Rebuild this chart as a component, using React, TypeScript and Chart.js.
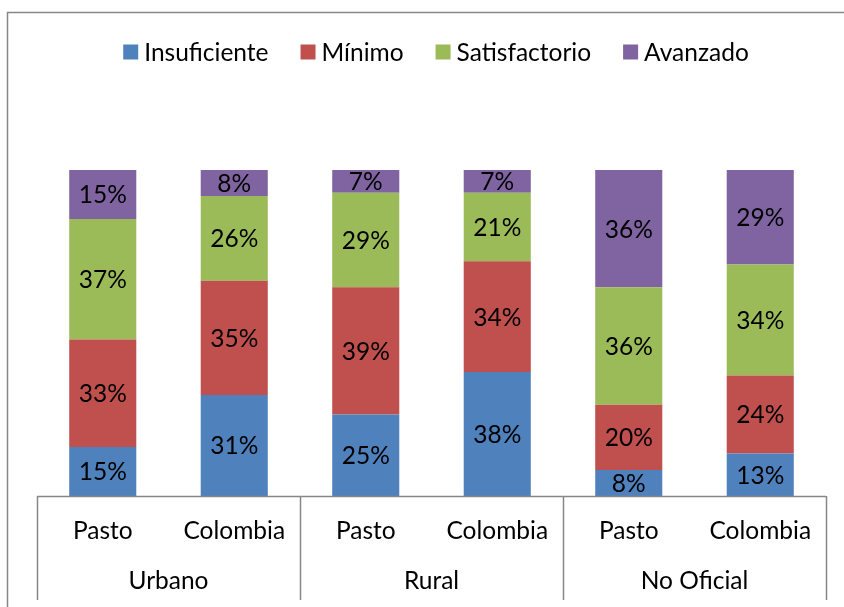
import React, { useEffect, useRef } from "react";
import { Chart, registerables } from "chart.js";

Chart.register(...registerables);

const categories = ["Pasto", "Colombia", "Pasto", "Colombia", "Pasto", "Colombia"];
const groups = ["Urbano", "Rural", "No Oficial"];
const seriesNames = ["Insuficiente", "Mínimo", "Satisfactorio", "Avanzado"];
const insuficiente = [15, 31, 25, 38, 8, 13];
const minimo = [33, 35, 39, 34, 20, 24];
const satisfactorio = [37, 26, 29, 21, 36, 34];
const avanzado = [15, 8, 7, 7, 36, 29];
const seriesColors = ["#4F81BD", "#C0504D", "#9BBB59", "#8064A2"];

const FONT_FAMILY = "Lato";
const FONT_SIZE = 24.5;
const AXIS_COLOR = "#878787";

const overlayPlugin = {
  id: "overlay",
  afterDatasetsDraw(chart: any) {
    const ctx = chart.ctx as CanvasRenderingContext2D;
    ctx.save();
    ctx.font = `${FONT_SIZE}px ${FONT_FAMILY}`;
    ctx.fillStyle = "#000";
    ctx.textAlign = "center";
    ctx.textBaseline = "middle";
    chart.data.datasets.forEach((ds: any, di: number) => {
      const meta = chart.getDatasetMeta(di);
      meta.data.forEach((bar: any, i: number) => {
        const v = ds.data[i];
        const p = bar.getProps(["x", "y", "base"], true);
        ctx.fillText(`${v}%`, p.x, (p.y + p.base) / 2 + 1);
      });
    });
    ctx.restore();
  },
  afterDraw(chart: any) {
    const ctx = chart.ctx as CanvasRenderingContext2D;
    const area = chart.chartArea;
    const xs = chart.scales.x;
    const n = categories.length;
    const step = (area.right - area.left) / n;
    ctx.save();

    // outer frame
    ctx.strokeStyle = AXIS_COLOR;
    ctx.lineWidth = 1.5;
    ctx.beginPath();
    ctx.moveTo(7.5, chart.height + 2);
    ctx.lineTo(7.5, 12.5);
    ctx.lineTo(chart.width + 2, 12.5);
    ctx.stroke();

    // axis line
    ctx.beginPath();
    ctx.moveTo(area.left, area.bottom + 0.5);
    ctx.lineTo(area.right, area.bottom + 0.5);
    ctx.stroke();

    // group separators
    const sepBottom = area.bottom + 104;
    for (let g = 0; g <= groups.length; g++) {
      const x = Math.round(area.left + g * 2 * step) + 0.5;
      ctx.beginPath();
      ctx.moveTo(x, area.bottom);
      ctx.lineTo(x, sepBottom);
      ctx.stroke();
    }

    // category labels
    ctx.font = `${FONT_SIZE}px ${FONT_FAMILY}`;
    ctx.fillStyle = "#000";
    ctx.textAlign = "center";
    ctx.textBaseline = "middle";
    categories.forEach((c, i) => {
      ctx.fillText(c, xs.getPixelForValue(i), area.bottom + 35);
    });
    groups.forEach((g, gi) => {
      const x = (xs.getPixelForValue(gi * 2) + xs.getPixelForValue(gi * 2 + 1)) / 2;
      ctx.fillText(g, x, area.bottom + 85);
    });

    // legend
    const box = 15;
    const boxGap = 6;
    const itemGap = 32;
    const widths = seriesNames.map((s) => ctx.measureText(s).width);
    const total = widths.reduce((a, w) => a + box + boxGap + w, 0) + itemGap * (seriesNames.length - 1);
    let x = 436 - total / 2;
    const ly = 52;
    ctx.textAlign = "left";
    seriesNames.forEach((s, i) => {
      ctx.fillStyle = seriesColors[i];
      ctx.fillRect(x, ly - box / 2, box, box);
      ctx.fillStyle = "#000";
      ctx.fillText(s, x + box + boxGap, ly + 1);
      x += box + boxGap + widths[i] + itemGap;
    });
    ctx.restore();
  },
};

export default function App() {
  const canvasRef = useRef<HTMLCanvasElement | null>(null);

  useEffect(() => {
    if (!canvasRef.current) return;
    const seriesData = [insuficiente, minimo, satisfactorio, avanzado];
    const chart = new Chart(canvasRef.current, {
      type: "bar",
      data: {
        labels: categories,
        datasets: seriesNames.map((name, i) => ({
          label: name,
          data: seriesData[i],
          backgroundColor: seriesColors[i],
          borderWidth: 0,
          barPercentage: 1,
          categoryPercentage: 0.51,
        })),
      },
      options: {
        animation: false,
        responsive: true,
        maintainAspectRatio: false,
        layout: { padding: { top: 170, bottom: 111, left: 37, right: 18 } },
        plugins: { legend: { display: false }, tooltip: { enabled: false } },
        scales: {
          x: { stacked: true, display: false },
          y: { stacked: true, display: false, min: 0, max: 100 },
        },
      },
      plugins: [overlayPlugin],
    });
    return () => chart.destroy();
  }, []);

  return (
    <div style={{ position: "absolute", left: 0, top: 0, width: 844, height: 607, background: "#fff" }}>
      <canvas ref={canvasRef} />
    </div>
  );
}
